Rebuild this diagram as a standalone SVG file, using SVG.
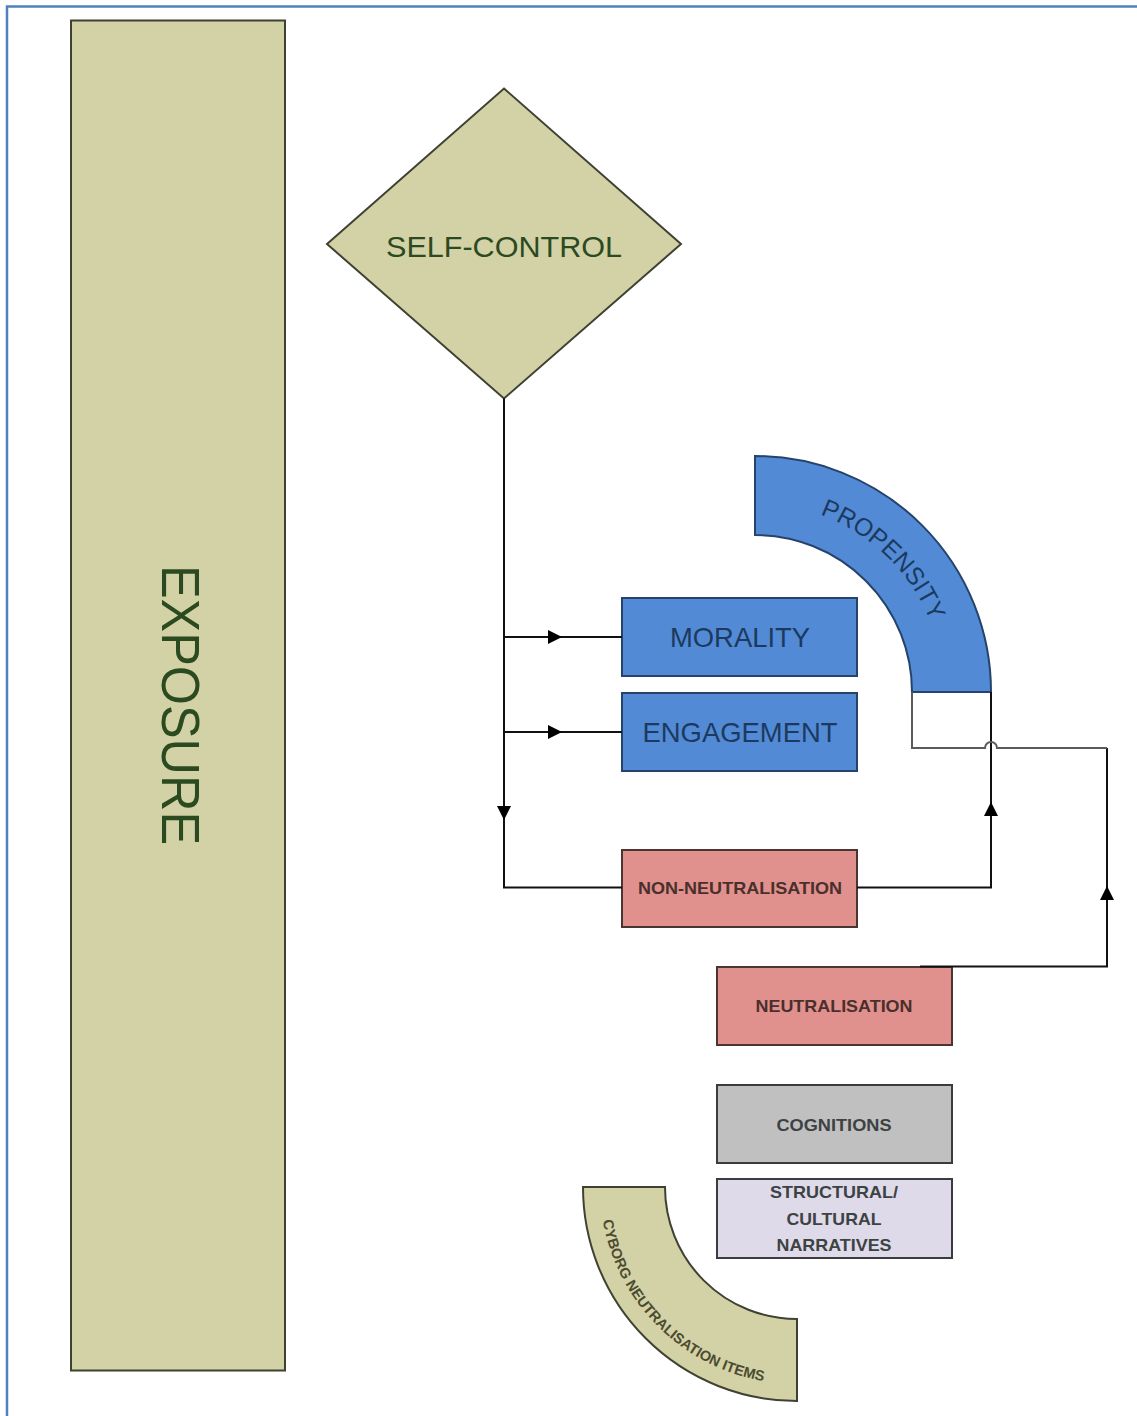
<svg xmlns="http://www.w3.org/2000/svg" width="1137" height="1416" viewBox="0 0 1137 1416">
  <style>
    .olive { fill: #d3d1a6; stroke: #3f4232; stroke-width: 2; }
    .blue { fill: #538ad6; stroke: #25436b; stroke-width: 2; }
    .pink { fill: #e0918d; stroke: #4a3533; stroke-width: 2; }
    .grey { fill: #c0c0c0; stroke: #3c3c3c; stroke-width: 2; }
    .lav { fill: #dedaea; stroke: #3c3c3c; stroke-width: 2; }
    .lbl { font-family: "Liberation Sans", Arial, sans-serif; text-anchor: middle; }
    .green { fill: #2c4a1f; }
    .navy { fill: #1b3a60; }
    .brown { fill: #4a2f2c; font-weight: bold; }
    .dark { fill: #3d4242; font-weight: bold; }
    .wire { fill: none; stroke: #111; stroke-width: 2; }
    .wire-grey { fill: none; stroke: #5a5a5a; stroke-width: 2; }
  </style>
  <defs>
    <path id="head" d="M0,0 L-14,-7 L-14,7 Z" fill="#000"/>
    <path id="propArc" d="M755,503 A189,189 0 0 1 944,692"/>
    <path id="cyborgArc" d="M600,1187 A197,197 0 0 0 797,1384"/>
  </defs>

  <rect width="1137" height="1416" fill="#fff"/>
  <!-- page frame -->
  <rect x="7" y="6.5" width="1300" height="1500" fill="none" stroke="#4f81bd" stroke-width="2.5"/>

  <g id="exposure">
    <rect class="olive" x="71" y="20.5" width="214" height="1350"/>
    <text class="lbl green" font-size="54" transform="translate(162,705) rotate(90)" textLength="280" lengthAdjust="spacingAndGlyphs">EXPOSURE</text>
  </g>

  <g id="self-control">
    <polygon class="olive" points="504,88.5 681,244 504,398.5 327,244"/>
    <text class="lbl green" x="504" y="256.5" font-size="30" textLength="236" lengthAdjust="spacingAndGlyphs">SELF-CONTROL</text>
  </g>

  <g id="propensity">
    <path class="blue" d="M755,456 A236,236 0 0 1 991,692 L912,692 A157,157 0 0 0 755,535 Z"/>
    <text class="lbl navy" font-size="25"><textPath href="#propArc" startOffset="49%" textLength="158" lengthAdjust="spacingAndGlyphs">PROPENSITY</textPath></text>
  </g>

  <g id="morality">
    <rect class="blue" x="622" y="598" width="235" height="78"/>
    <text class="lbl navy" x="740" y="646.5" font-size="28" textLength="140" lengthAdjust="spacingAndGlyphs">MORALITY</text>
  </g>

  <g id="engagement">
    <rect class="blue" x="622" y="693" width="235" height="78"/>
    <text class="lbl navy" x="740" y="742" font-size="28" textLength="195" lengthAdjust="spacingAndGlyphs">ENGAGEMENT</text>
  </g>

  <g id="non-neutralisation">
    <rect class="pink" x="622" y="850" width="235" height="77"/>
    <text class="lbl brown" x="740" y="894" font-size="17" textLength="204" lengthAdjust="spacingAndGlyphs">NON-NEUTRALISATION</text>
  </g>

  <g id="neutralisation">
    <rect class="pink" x="717" y="967" width="235" height="78"/>
    <text class="lbl brown" x="834" y="1011.5" font-size="17" textLength="157" lengthAdjust="spacingAndGlyphs">NEUTRALISATION</text>
  </g>

  <g id="cognitions">
    <rect class="grey" x="717" y="1085" width="235" height="78"/>
    <text class="lbl dark" x="834" y="1130.5" font-size="17" textLength="115" lengthAdjust="spacingAndGlyphs">COGNITIONS</text>
  </g>

  <g id="narratives">
    <rect class="lav" x="717" y="1179" width="235" height="79"/>
    <text class="lbl dark" x="834" y="1198" font-size="17" textLength="128" lengthAdjust="spacingAndGlyphs">STRUCTURAL/</text>
    <text class="lbl dark" x="834" y="1224.5" font-size="17" textLength="95" lengthAdjust="spacingAndGlyphs">CULTURAL</text>
    <text class="lbl dark" x="834" y="1250.5" font-size="17" textLength="115" lengthAdjust="spacingAndGlyphs">NARRATIVES</text>
  </g>

  <g id="cyborg-items">
    <path class="olive" d="M583,1187 L665,1187 A132,132 0 0 0 797,1319 L797,1401 A214,214 0 0 1 583,1187 Z"/>
    <text class="lbl" font-size="14.5" font-weight="bold" fill="#4b4b30"><textPath href="#cyborgArc" startOffset="50%" textLength="242" lengthAdjust="spacingAndGlyphs">CYBORG NEUTRALISATION ITEMS</textPath></text>
  </g>

  <g id="connectors">
    <!-- self-control trunk down to non-neutralisation -->
    <path class="wire" d="M504,398.5 L504,887.5 L622,887.5"/>
    <path class="wire" d="M504,637 L622,637"/>
    <path class="wire" d="M504,732 L622,732"/>
    <!-- non-neutralisation up to propensity -->
    <path class="wire" d="M857,887.5 L991,887.5 L991,692"/>
    <!-- neutralisation loop to propensity, hopping the vertical -->
    <path class="wire" d="M920,966.5 L1107,966.5 L1107,748"/>
    <path class="wire-grey" d="M1107,748 L997,748 A6,6 0 0 0 985,748 L912,748 L912,692"/>
    <use href="#head" transform="translate(562,637)"/>
    <use href="#head" transform="translate(562,732)"/>
    <use href="#head" transform="translate(504,820) rotate(90)"/>
    <use href="#head" transform="translate(991,802) rotate(-90)"/>
    <use href="#head" transform="translate(1107,886) rotate(-90)"/>
  </g>
</svg>
